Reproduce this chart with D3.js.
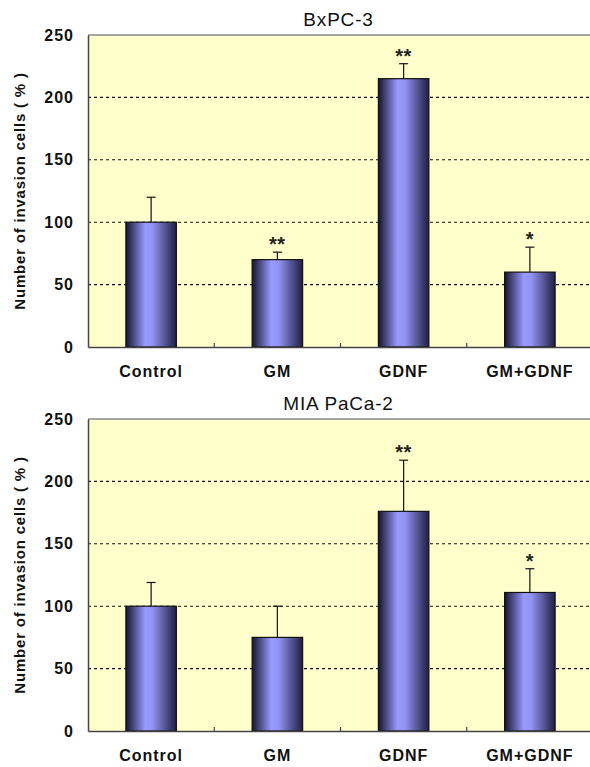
<!DOCTYPE html>
<html>
<head>
<meta charset="utf-8">
<script src="https://cdn.jsdelivr.net/npm/d3@7"></script>
<style>
  body { margin: 0; background: #fff; }
  svg text { font-family: "Liberation Sans", Arial, sans-serif; }
</style>
</head>
<body>
<div id="chart"></div>
<script>
const categories = ["Control", "GM", "GDNF", "GM+GDNF"];
const yTicks = [0, 50, 100, 150, 200, 250];
const gridTicks = [50, 100, 150, 200];

const titles = ["BxPC-3", "MIA PaCa-2"];
const bxpcMeans = [100, 70, 215, 60];
const bxpcErrors = [20, 6, 12, 20];
const bxpcStars = ["", "**", "**", "*"];
const miaMeans = [100, 75, 176, 111];
const miaErrors = [19, 25, 41, 19];
const miaStars = ["", "", "**", "*"];

const panels = [
  { title: titles[0], means: bxpcMeans, errors: bxpcErrors, stars: bxpcStars, top: 35, bottom: 347 },
  { title: titles[1], means: miaMeans, errors: miaErrors, stars: miaStars, top: 419, bottom: 731 }
];

const W = 590, H = 767;
const left = 88, right = 593;

const svg = d3.select("#chart").append("svg")
  .attr("width", W)
  .attr("height", H);

const grad = svg.append("defs").append("linearGradient")
  .attr("id", "barGrad")
  .attr("x1", "0%").attr("x2", "100%")
  .attr("y1", "0%").attr("y2", "0%");
grad.append("stop").attr("offset", "0%").attr("stop-color", "#15152e");
grad.append("stop").attr("offset", "38%").attr("stop-color", "#9999ff");
grad.append("stop").attr("offset", "52%").attr("stop-color", "#9494f6");
grad.append("stop").attr("offset", "100%").attr("stop-color", "#1e1e42");

const x = d3.scaleBand()
  .domain(categories)
  .range([left, right])
  .paddingInner(0.6)
  .paddingOuter(0.3);

panels.forEach(p => {
  const y = d3.scaleLinear().domain([0, 250]).range([p.bottom, p.top]);
  const g = svg.append("g");

  // plot background
  g.append("rect")
    .attr("x", left)
    .attr("y", p.top)
    .attr("width", right - left)
    .attr("height", p.bottom - p.top)
    .attr("fill", "#ffffcc");

  // dashed gridlines
  g.selectAll(".grid")
    .data(gridTicks)
    .enter().append("line")
    .attr("x1", left).attr("x2", right)
    .attr("y1", d => y(d)).attr("y2", d => y(d))
    .attr("stroke", "#111")
    .attr("stroke-width", 1.1)
    .attr("stroke-dasharray", "3,3");

  // top border
  g.append("line")
    .attr("x1", left).attr("x2", right)
    .attr("y1", p.top).attr("y2", p.top)
    .attr("stroke", "#888")
    .attr("stroke-width", 1.5);

  // error bars
  g.selectAll(".err")
    .data(p.means)
    .enter().append("line")
    .attr("x1", (d, i) => x(categories[i]) + x.bandwidth() / 2)
    .attr("x2", (d, i) => x(categories[i]) + x.bandwidth() / 2)
    .attr("y1", d => y(d))
    .attr("y2", (d, i) => y(d + p.errors[i]))
    .attr("stroke", "#111")
    .attr("stroke-width", 1.2);

  g.selectAll(".cap")
    .data(p.means)
    .enter().append("line")
    .attr("x1", (d, i) => x(categories[i]) + x.bandwidth() / 2 - 4.5)
    .attr("x2", (d, i) => x(categories[i]) + x.bandwidth() / 2 + 4.5)
    .attr("y1", (d, i) => y(d + p.errors[i]))
    .attr("y2", (d, i) => y(d + p.errors[i]))
    .attr("stroke", "#111")
    .attr("stroke-width", 1.2);

  // bars
  g.selectAll(".bar")
    .data(p.means)
    .enter().append("rect")
    .attr("x", (d, i) => x(categories[i]))
    .attr("y", d => y(d))
    .attr("width", x.bandwidth())
    .attr("height", d => y(0) - y(d))
    .attr("fill", "url(#barGrad)")
    .attr("stroke", "#111")
    .attr("stroke-width", 1.2);

  // significance stars
  g.selectAll(".star")
    .data(p.stars)
    .enter().append("text")
    .attr("x", (d, i) => x(categories[i]) + x.bandwidth() / 2)
    .attr("y", (d, i) => y(p.means[i] + p.errors[i]) - 1)
    .attr("text-anchor", "middle")
    .style("font-size", "20px")
    .style("font-weight", "bold")
    .style("letter-spacing", "0.5px")
    .attr("fill", "#222")
    .text(d => d);

  // y axis
  const yAxis = g.append("g")
    .attr("transform", `translate(${left},0)`)
    .call(d3.axisLeft(y).tickValues(yTicks).tickSize(0).tickPadding(14));
  yAxis.select(".domain").attr("stroke", "#444").attr("stroke-width", 1.5);
  yAxis.selectAll("text")
    .style("font-size", "16px")
    .style("font-weight", "bold")
    .style("letter-spacing", "1px")
    .attr("fill", "#111");

  // x axis
  const xAxis = g.append("g")
    .attr("transform", `translate(0,${p.bottom})`)
    .call(d3.axisBottom(x).tickSize(0).tickPadding(19));
  xAxis.select(".domain").attr("stroke", "#444").attr("stroke-width", 1.5);
  xAxis.selectAll("text")
    .style("font-size", "16px")
    .style("font-weight", "bold")
    .style("letter-spacing", "1px")
    .attr("fill", "#111");

  // category separator ticks
  const seps = categories.slice(1).map(c => x(c) - x.step() * x.paddingInner() / 2);
  g.selectAll(".sep")
    .data(seps)
    .enter().append("line")
    .attr("x1", d => d).attr("x2", d => d)
    .attr("y1", p.bottom).attr("y2", p.bottom - 4)
    .attr("stroke", "#444")
    .attr("stroke-width", 1.2);

  // title
  g.append("text")
    .attr("x", (left + right) / 2 - 2)
    .attr("y", p.top - 9)
    .attr("text-anchor", "middle")
    .style("font-size", "19px")
    .style("letter-spacing", "0.8px")
    .attr("fill", "#111")
    .text(p.title);

  // y label
  g.append("text")
    .attr("transform", `translate(25,${(p.top + p.bottom) / 2}) rotate(-90)`)
    .attr("text-anchor", "middle")
    .style("font-size", "15px")
    .style("font-weight", "bold")
    .style("letter-spacing", "0.8px")
    .attr("fill", "#111")
    .text("Number of invasion cells ( % )");
});
</script>
</body>
</html>
